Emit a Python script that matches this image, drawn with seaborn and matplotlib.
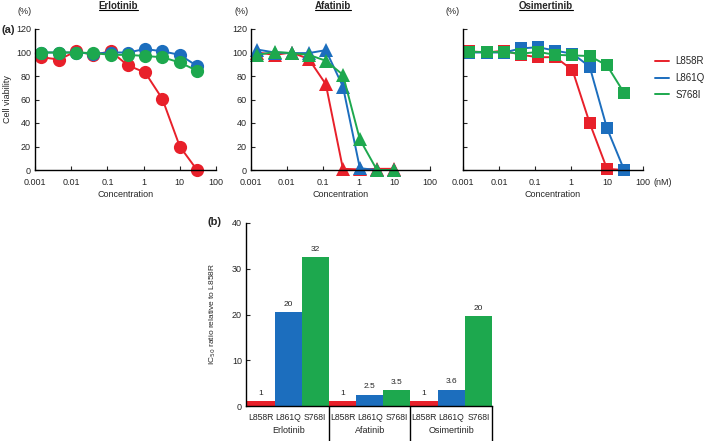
import numpy as np
import pandas as pd
import matplotlib
matplotlib.use("Agg")
import matplotlib.pyplot as plt
from matplotlib.lines import Line2D
from matplotlib.ticker import FixedLocator, NullLocator
import seaborn as sns

# ---- data ----
strains = ["L858R", "L861Q", "S768I"]
colors = ["#E8202A", "#1C6EBE", "#1DA84E"]

conc_erlo = [0.0015, 0.0046, 0.0137, 0.041, 0.123, 0.37, 1.1, 3.3, 10, 30]
erlo_l858r = [96, 94, 101, 98, 101, 89, 83, 60.5, 20, 0]
erlo_l861q = [100, 100, 100, 99, 100, 100, 103, 101, 98, 88.5]
erlo_s768i = [100, 100, 100, 99.5, 98, 98, 97, 96, 91.5, 84.5]

conc_afa = [0.0015, 0.0046, 0.0137, 0.041, 0.123, 0.37, 1.1, 3.3, 10]
afa_l858r = [100, 98, 100, 94.5, 73, 1, 0.5, 1, 1]
afa_l861q = [102.5, 100, 99.5, 99.5, 102, 71, 1.5, 0, 0]
afa_s768i = [98, 100.5, 99.5, 98, 93, 81, 26, 0, 0]

conc_osi = [0.0015, 0.0046, 0.0137, 0.041, 0.123, 0.37, 1.1, 3.3, 10, 30]
osi_l858r = [101, 100, 101.5, 98, 96, 96, 85, 40, 1, 0]
osi_l861q = [100, 100, 100, 103.5, 104.5, 101.5, 99, 88, 35.5, 0]
osi_s768i = [100.5, 100.5, 100.5, 99, 100.5, 98, 97.5, 97, 89, 65.5]

drugs = ["Erlotinib", "Afatinib", "Osimertinib"]
ic50_ratio = [1, 20.5, 32.5, 1, 2.5, 3.5, 1, 3.6, 19.7]
ratio_labels = ["1", "20", "32", "1", "2.5", "3.5", "1", "3.6", "20"]

curves = [
    ("Erlotinib", conc_erlo, [erlo_l858r, erlo_l861q, erlo_s768i], "o", 9.5),
    ("Afatinib", conc_afa, [afa_l858r, afa_l861q, afa_s768i], "^", 9.5),
    ("Osimertinib", conc_osi, [osi_l858r, osi_l861q, osi_s768i], "s", 8.5),
]

sns.set_style("ticks")
plt.rcParams["font.family"] = ["Liberation Sans", "DejaVu Sans"]
plt.rcParams["font.size"] = 6.5

fig = plt.figure(figsize=(7.09, 4.41), dpi=100)
W, H = 709, 441

def px_axes(left, top, right, bottom):
    return fig.add_axes([left / W, 1 - bottom / H, (right - left) / W, (bottom - top) / H])

line_axes = [px_axes(35, 29, 216, 170), px_axes(251, 29, 430, 170), px_axes(463, 29, 643, 170)]
titles = []
palette = dict(zip(strains, colors))

for i, (ax, (drug, conc, series, mk, ms)) in enumerate(zip(line_axes, curves)):
    rows = []
    for s, vals in zip(strains, series):
        for c, v in zip(conc, vals):
            rows.append({"conc": c, "viability": v, "strain": s})
    d = pd.DataFrame(rows)
    sns.lineplot(data=d, x="conc", y="viability", hue="strain", palette=palette,
                 marker=mk, markersize=ms, markeredgewidth=0, linewidth=1.4,
                 legend=False, ax=ax, clip_on=False)
    ax.set_xscale("log")
    ax.set_xlim(0.001, 100)
    ax.set_ylim(0, 120)
    ax.xaxis.set_major_locator(FixedLocator([0.001, 0.01, 0.1, 1, 10, 100]))
    ax.xaxis.set_minor_locator(NullLocator())
    ax.set_xticklabels(["0.001", "0.01", "0.1", "1", "10", "100"])
    ax.set_yticks([0, 20, 40, 60, 80, 100, 120])
    ax.tick_params(direction="in", length=3, width=0.8, labelsize=6.5)
    ax.tick_params(axis="x", pad=6)
    ax.tick_params(axis="y", pad=3)
    for sp in ["top", "right"]:
        ax.spines[sp].set_visible(False)
    for sp in ["left", "bottom"]:
        ax.spines[sp].set_linewidth(1.0)
        ax.spines[sp].set_color("black")
    ax.set_xlabel("Concentration", fontsize=6.5)
    ax.xaxis.set_label_coords(0.5, -0.145)
    if i == 0:
        ax.set_ylabel("Cell viability", fontsize=6.5)
        ax.yaxis.set_label_coords(-0.125, 0.5)
    else:
        ax.set_ylabel("")
    if i == 2:
        ax.set_yticklabels([])
        ax.text(1.11, -0.092, "(nM)", transform=ax.transAxes, ha="center", va="center", fontsize=6.5)
    ax.text(-10 / 181, 1 + 18 / 141, "(%)", transform=ax.transAxes, ha="center", va="center", fontsize=6.5)
    t = ax.text(0.46, 1 + 23 / 141, drug, transform=ax.transAxes, ha="center", va="center",
                fontsize=7, fontweight="bold")
    titles.append(t)

fig.text(1 / W, 1 - 30 / H, "(a)", fontsize=8, fontweight="bold", ha="left", va="center")

handles = [Line2D([], [], color=c, lw=1.4) for c in colors]
fig.legend(handles, strains, loc="center left", bbox_to_anchor=(655 / W, 1 - 78 / H),
           frameon=False, fontsize=7, borderpad=0, borderaxespad=0,
           handlelength=1.4, handletextpad=0.7, labelspacing=0.7)

# ---- bar panel ----
axb = px_axes(246, 223, 492, 406)
bars = pd.DataFrame({
    "drug": np.repeat(drugs, 3),
    "strain": strains * 3,
    "ratio": ic50_ratio,
})
bars["key"] = bars["drug"] + " " + bars["strain"]
sns.barplot(data=bars, x="key", y="ratio", hue="strain", palette=palette, dodge=False,
            width=1, saturation=1, linewidth=0, legend=False, ax=axb)
axb.set_xlim(-0.55, 8.5)
axb.set_ylim(0, 40)
axb.set_yticks([0, 10, 20, 30, 40])
axb.set_xticks(range(9))
axb.set_xticklabels(bars["strain"], fontsize=6.2)
axb.tick_params(axis="x", length=0, pad=5)
axb.tick_params(axis="y", direction="in", length=3, width=0.8, labelsize=6.5, pad=3)
for sp in ["top", "right"]:
    axb.spines[sp].set_visible(False)
for sp in ["left", "bottom"]:
    axb.spines[sp].set_linewidth(1.0)
    axb.spines[sp].set_color("black")
axb.set_xlabel("")
axb.set_ylabel("IC$_{50}$ ratio relative to L858R", fontsize=6)
axb.yaxis.set_label_coords(-0.114, 0.5)

for i, (v, lab) in enumerate(zip(bars["ratio"], ratio_labels)):
    axb.text(i, v + 0.9, lab, ha="center", va="bottom", fontsize=6)

tr = axb.get_xaxis_transform()
for j, d in enumerate(drugs):
    axb.text(3 * j + 1, -0.135, d, transform=tr, ha="center", va="center", fontsize=6.5)
for xb in [2.5, 5.5, 8.5]:
    axb.plot([xb, xb], [0, -0.2], transform=tr, color="black", lw=1.0, clip_on=False)

fig.text(215 / W, 1 - 222 / H, "(b)", fontsize=8, fontweight="bold", ha="center", va="center")

# underline the drug titles
fig.canvas.draw()
renderer = fig.canvas.get_renderer()
inv = fig.transFigure.inverted()
for t in titles:
    bb = t.get_window_extent(renderer)
    (x0, y0), (x1, _) = inv.transform([(bb.x0, bb.y0 + 1), (bb.x1, bb.y0 + 1)])
    fig.add_artist(Line2D([x0, x1], [y0, y0], transform=fig.transFigure, color="black", lw=0.8))

fig.savefig("out.png", dpi=100)
plt.close(fig)
